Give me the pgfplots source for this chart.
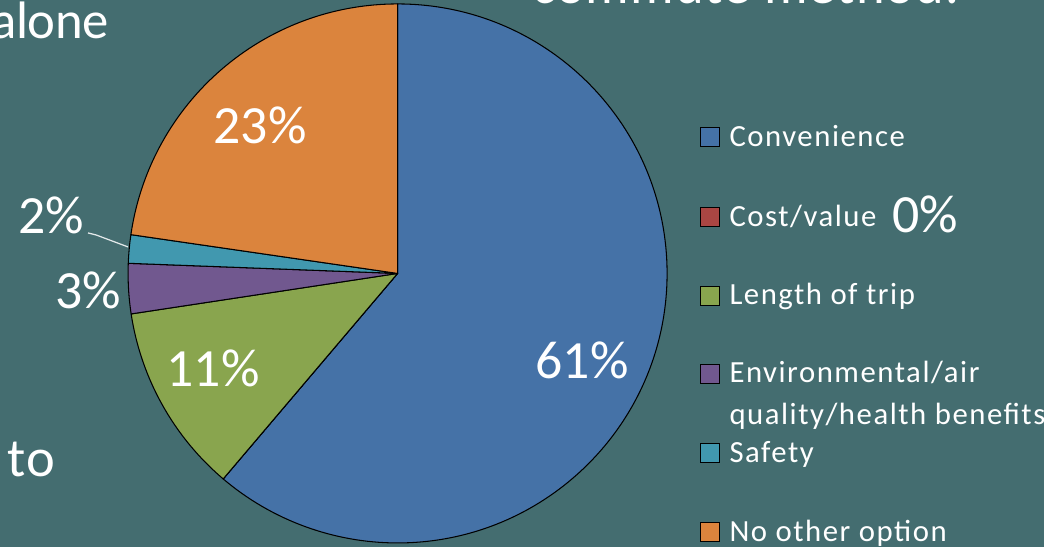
\documentclass[border=0pt]{standalone}
\usepackage{pgfplots}
\pgfplotsset{compat=1.18}
\usepackage{fontspec}
\setmainfont{Carlito}
\newfontfamily\legfont[LetterSpace=5]{Carlito}
\newfontfamily\ttlfont[LetterSpace=2]{Carlito}
\newfontfamily\ttlfonttight[LetterSpace=-1]{Carlito}
\definecolor{bg}{HTML}{446D70}
\definecolor{cblue}{HTML}{4572A7}
\definecolor{cred}{HTML}{AA4643}
\definecolor{cgreen}{HTML}{89A54E}
\definecolor{cpurple}{HTML}{71588F}
\definecolor{cteal}{HTML}{4198AF}
\definecolor{corange}{HTML}{DB843D}
\newcommand{\pct}{\fontsize{30.6}{34}\selectfont}
\newcommand{\leg}{\legfont\fontsize{17.5}{23.8}\selectfont}
\newcommand{\ttl}{\ttlfont\fontsize{31}{38}\selectfont}
\newcommand{\ttlb}{\ttlfonttight\fontsize{30}{36}\selectfont}
\begin{document}
\begin{tikzpicture}
\clip (0,0) rectangle (20.88cm,10.94cm);
\fill[bg] (0,0) rectangle (20.88cm,10.94cm);
\begin{axis}[
  at={(0,0)}, anchor=south west,
  x=0.02cm, y=0.02cm,
  xmin=0, xmax=1044, ymin=0, ymax=547,
  hide axis, clip=false,
]
% pie slices: percent / colour (clockwise from 12 o'clock)
\gdef\cum{90}
\foreach \pv/\slcol in {61.2/cblue, 0/cred, 11.4/cgreen, 3.0/cpurple, 1.7/cteal, 22.7/corange}{
  \pgfmathsetmacro\endang{\cum-3.6*\pv}
  \edef\tmp{\noexpand\filldraw[fill=\slcol, draw=black, line width=0.6pt, line join=round]
    (axis cs:397.5,273.5) -- ++(\cum:5.39cm)
    arc[start angle=\cum, end angle=\endang, radius=5.39cm] -- cycle;}
  \tmp
  \xdef\cum{\endang}
}
% data labels
\node[white, font=\pct] at (axis cs:582,187) {61\%};
\node[white, font=\pct] at (axis cs:260,422) {23\%};
\node[white, font=\pct] at (axis cs:213,179) {11\%};
\node[white, font=\pct] at (axis cs:88,257) {3\%};
\node[white, font=\pct] at (axis cs:51,332) {2\%};
\draw[white!85!bg, line width=0.7pt] (axis cs:88,314) -- (axis cs:96,312) -- (axis cs:128,300);
\node[white, font=\pct] at (axis cs:925,333) {0\%};
% legend
\filldraw[fill=cblue, draw=black, line width=0.5pt] (axis cs:700.5,400) rectangle (axis cs:719.5,419);
\filldraw[fill=cred, draw=black, line width=0.5pt] (axis cs:700.5,320.3) rectangle (axis cs:719.5,339.3);
\filldraw[fill=cgreen, draw=black, line width=0.5pt] (axis cs:700.5,242) rectangle (axis cs:719.5,261);
\filldraw[fill=cpurple, draw=black, line width=0.5pt] (axis cs:700.5,164) rectangle (axis cs:719.5,183);
\filldraw[fill=cteal, draw=black, line width=0.5pt] (axis cs:700.5,84.3) rectangle (axis cs:719.5,103.3);
\filldraw[fill=corange, draw=black, line width=0.5pt] (axis cs:700.5,5.3) rectangle (axis cs:719.5,24.3);
\node[white, font=\leg, anchor=base west, inner sep=0pt] at (axis cs:729,400) {Convenience};
\node[white, font=\leg, anchor=base west, inner sep=0pt] at (axis cs:729,320.3) {Cost/value};
\node[white, font=\leg, anchor=base west, inner sep=0pt] at (axis cs:729,242) {Length of trip};
\node[white, font=\leg, anchor=base west, inner sep=0pt] at (axis cs:729,164) {Environmental/air};
\node[white, font=\leg, anchor=base west, inner sep=0pt] at (axis cs:729,122) {quality/health benefits};
\node[white, font=\leg, anchor=base west, inner sep=0pt] at (axis cs:729,84.3) {Safety};
\node[white, font=\leg, anchor=base west, inner sep=0pt] at (axis cs:729,5.3) {No other option};
% surrounding slide text
\node[white, font=\ttlb, anchor=base east, inner sep=0pt] at (axis cs:109,508) {alone};
\node[white, font=\ttl, anchor=base west, inner sep=0pt] at (axis cs:7,70) {to};
\node[white, font=\ttl, anchor=base west, inner sep=0pt] at (axis cs:532,543) {commute method.};
\end{axis}
\end{tikzpicture}
\end{document}
